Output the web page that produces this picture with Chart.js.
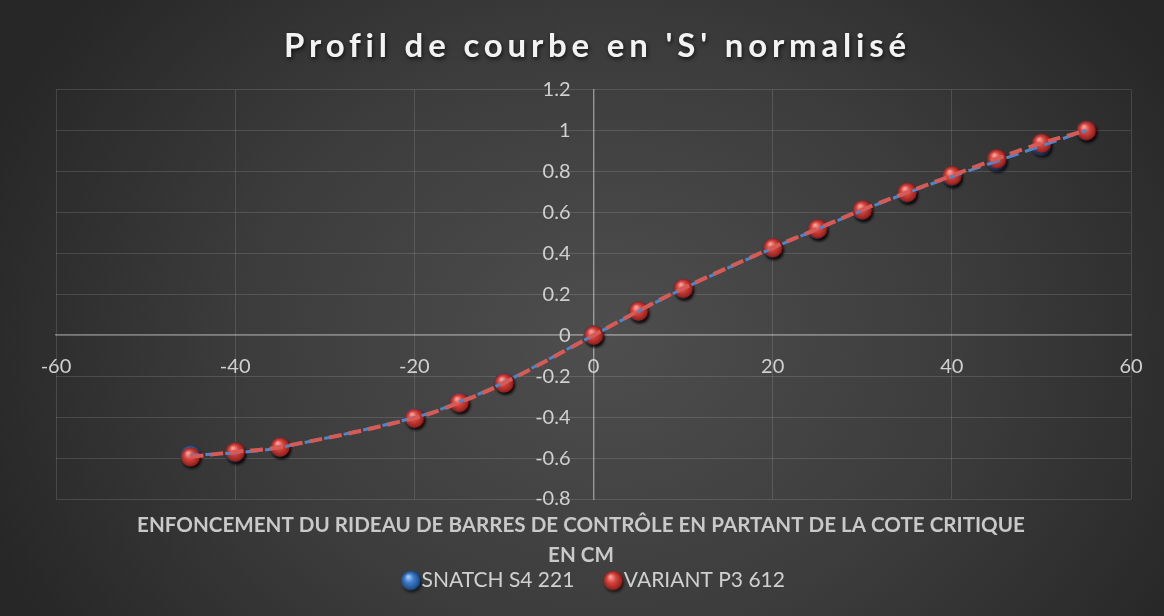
<!DOCTYPE html>
<html><head><meta charset="utf-8">
<script src="https://cdn.jsdelivr.net/npm/chart.js@4.4.1/dist/chart.umd.min.js"></script>
<style>
html,body{margin:0;padding:0;width:1164px;height:616px;overflow:hidden;
background: radial-gradient(ellipse 660px 540px at 52% 55%, #4e4e4e 0%, #3c3c3c 55%, #272727 100%);}
canvas{display:block}
</style></head><body>
<canvas id="c" width="1164" height="616"></canvas>
<script>
const chartTitle = "Profil de courbe en 'S' normalisé";
const axisTitleLines = ['ENFONCEMENT DU RIDEAU DE BARRES DE CONTRÔLE EN PARTANT DE LA COTE CRITIQUE', 'EN CM'];
const seriesNames = ['SNATCH S4 221', 'VARIANT P3 612'];
const depthCm = [-45, -40, -35, -20, -15, -10, 0, 5, 10, 20, 25, 30, 35, 40, 45, 50, 55];
const snatchValues = [-0.586, -0.574, -0.548, -0.402, -0.326, -0.230, 0, 0.116, 0.227, 0.426, 0.518, 0.610, 0.695, 0.775, 0.850, 0.925, 1.0];
const variantValues = [-0.594, -0.570, -0.546, -0.405, -0.329, -0.233, 0, 0.118, 0.229, 0.428, 0.520, 0.613, 0.698, 0.780, 0.862, 0.938, 1.0];
const xAxisRange = { min: -60, max: 60, step: 20 };
const yAxisRange = { min: -0.8, max: 1.2, step: 0.2 };

function makeSphere(light, base, dark) {
  const s = 28, c = document.createElement('canvas');
  c.width = s; c.height = s;
  const g = c.getContext('2d');
  const cx = 14, cy = 14, r = 9.5;
  g.save();
  g.shadowColor = 'rgba(0,0,0,0.65)'; g.shadowBlur = 3; g.shadowOffsetX = 1.5; g.shadowOffsetY = 2.5;
  g.beginPath(); g.arc(cx, cy, r, 0, Math.PI * 2); g.fillStyle = dark; g.fill();
  g.restore();
  const grd = g.createRadialGradient(cx - 2.5, cy - 4, 0.5, cx, cy, r);
  grd.addColorStop(0, light); grd.addColorStop(0.45, base); grd.addColorStop(1, dark);
  g.beginPath(); g.arc(cx, cy, r, 0, Math.PI * 2); g.fillStyle = grd; g.fill();
  return c;
}
const redSphere = makeSphere('#f6a7a0', '#d8463f', '#8f1f1b');
const blueSphere = makeSphere('#acd0f7', '#3f7ecb', '#1d4a86');

const toPts = vals => depthCm.map((x, i) => ({ x: x, y: vals[i] }));
const fmt = v => { const n = Math.round(v * 10) / 10; return (n === 0 ? 0 : n).toString(); };

Chart.defaults.font.family = 'Lato';

const titlePatch = {
  id: 'titlePatch',
  beforeDraw(chart) {
    const tb = chart.titleBlock;
    if (tb && !tb._patched) {
      const orig = tb.draw;
      tb.draw = function () {
        const c = this.ctx;
        c.save();
        c.letterSpacing = '4.8px';
        c.shadowColor = 'rgba(0,0,0,0.7)'; c.shadowBlur = 4; c.shadowOffsetX = 1; c.shadowOffsetY = 2;
        c.translate(4, 0);
        orig.call(this);
        c.restore();
      };
      tb._patched = true;
    }
  },
  afterLayout(chart) {
    const s = chart.scales.x2;
    if (s) { s.left = s.left - 25; }
    const lg = chart.legend;
    if (lg) { lg.left += 4; lg.right += 4; }
  }
};

new Chart(document.getElementById('c'), {
  type: 'scatter',
  data: {
    datasets: [
      { label: seriesNames[1], data: toPts(variantValues), showLine: true, borderColor: '#d65a55', borderWidth: 4, borderDash: [13, 7], tension: 0.4, pointRadius: 0, pointHoverRadius: 0, fill: false },
      { label: seriesNames[0], data: toPts(snatchValues), showLine: true, borderColor: '#4a87cc', borderWidth: 3, borderDash: [13, 7], borderDashOffset: 5, tension: 0.4, pointRadius: 0, pointHoverRadius: 0, fill: false },
      { label: seriesNames[1], marker: true, data: toPts(variantValues), showLine: false, pointStyle: redSphere, pointRadius: 9.5, pointHoverRadius: 9.5, backgroundColor: '#d8463f', borderColor: '#d8463f' },
      { label: seriesNames[0], marker: true, data: toPts(snatchValues), showLine: false, pointStyle: blueSphere, pointRadius: 9.5, pointHoverRadius: 9.5, backgroundColor: '#3f7ecb', borderColor: '#3f7ecb' }
    ]
  },
  options: {
    responsive: false,
    animation: false,
    devicePixelRatio: 1,
    events: [],
    layout: { padding: { left: 56, right: 33, top: 0, bottom: 15 } },
    scales: {
      x: {
        type: 'linear', position: { y: 0 }, min: xAxisRange.min, max: xAxisRange.max,
        ticks: { stepSize: xAxisRange.step, color: '#d0d0d0', font: { size: 20 }, padding: 19 },
        grid: { color: 'rgba(255,255,255,0.13)', drawTicks: false, lineWidth: 1 },
        border: { color: 'rgba(255,255,255,0.36)', width: 1.5 },
        afterFit: s => { s.height = 0; }
      },
      y: {
        type: 'linear', position: 'center', min: yAxisRange.min, max: yAxisRange.max,
        ticks: { stepSize: yAxisRange.step, color: '#d0d0d0', font: { size: 20 }, padding: 23, callback: v => fmt(v) },
        grid: { color: 'rgba(255,255,255,0.13)', drawTicks: false, lineWidth: 1 },
        border: { color: 'rgba(255,255,255,0.36)', width: 1.5 },
        afterFit: s => { s.width = 0; }
      },
      x2: {
        type: 'linear', axis: 'x', position: 'bottom', min: 0, max: 1,
        ticks: { display: false },
        grid: { display: false, drawTicks: false },
        border: { display: false },
        title: { display: true, text: axisTitleLines, color: '#c9c9c9', font: { size: 20.6, weight: 'bold', lineHeight: 30 / 20.6 }, padding: { top: 0, bottom: -38 } },
        afterFit: s => { s.height = 33; }
      }
    },
    plugins: {
      tooltip: { enabled: false },
      title: { display: true, text: chartTitle, color: '#f2f2f2', font: { size: 33, weight: 'bold', lineHeight: 1.2 }, padding: { top: 27, bottom: 23 } },
      legend: {
        position: 'bottom',
        labels: {
          usePointStyle: true, pointStyleWidth: 1, color: '#d0d0d0', font: { size: 21 }, padding: 38,
          filter: (item, data) => data.datasets[item.datasetIndex].marker === true,
          sort: (a, b) => b.datasetIndex - a.datasetIndex
        }
      }
    }
  },
  plugins: [titlePatch]
});
</script>
</body></html>
